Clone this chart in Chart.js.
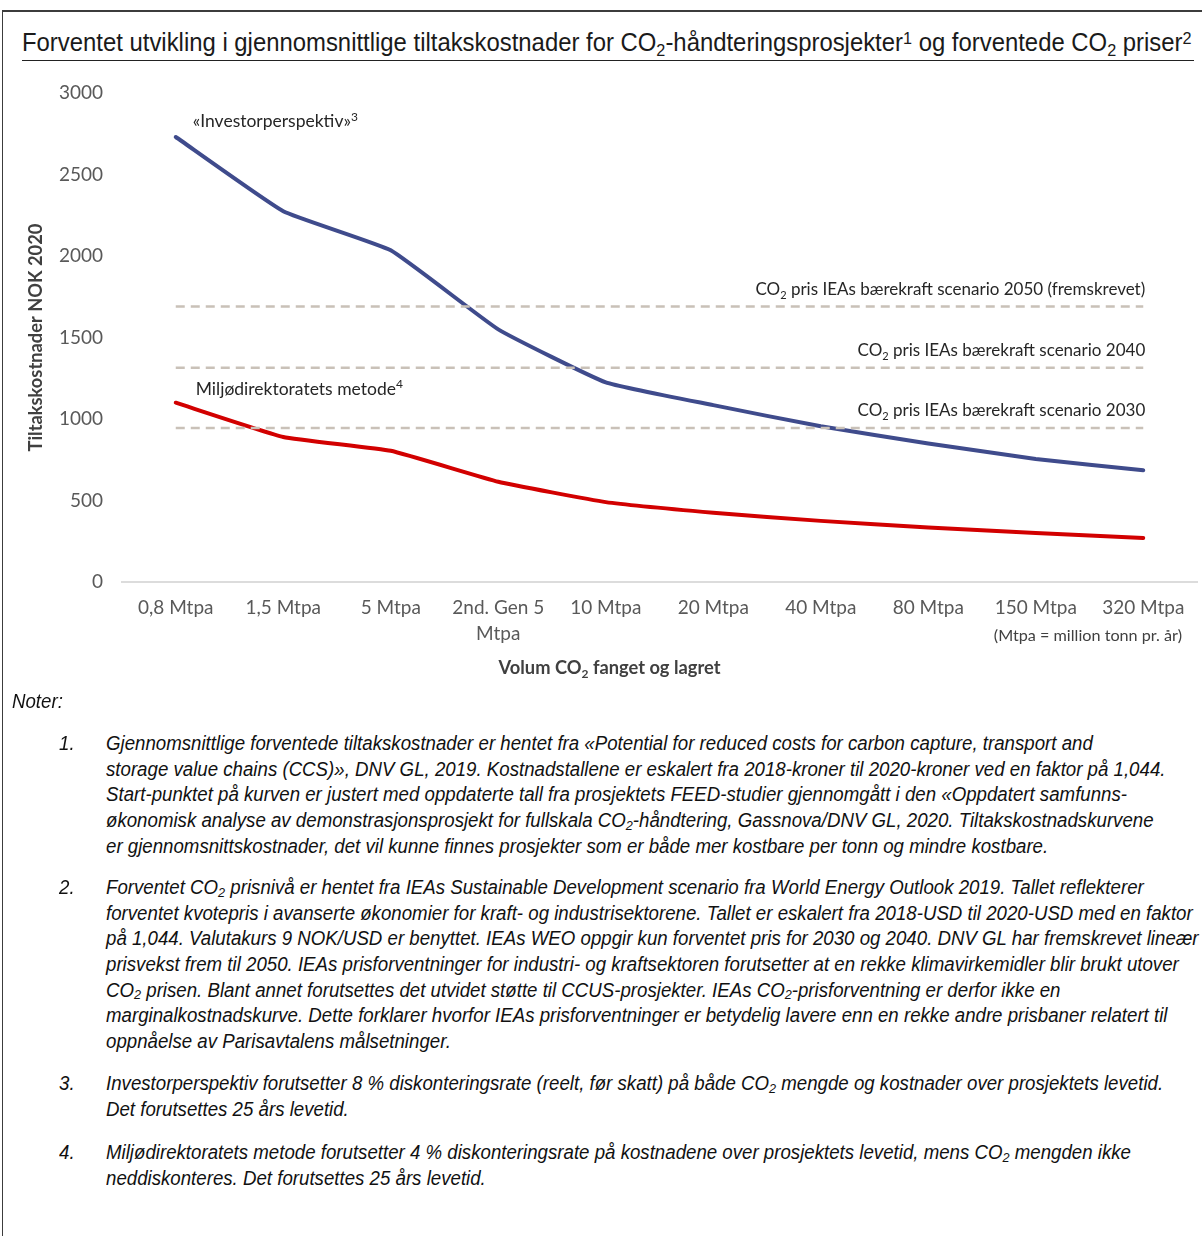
<!DOCTYPE html>
<html lang="no">
<head>
<meta charset="utf-8">
<title>Forventet utvikling i gjennomsnittlige tiltakskostnader</title>
<script src="https://cdn.jsdelivr.net/npm/chart.js@4.4.1/dist/chart.umd.min.js"></script>
<style>
  html, body { margin: 0; padding: 0; background: #fff; }
  body { width: 1202px; height: 1236px; position: relative; overflow: hidden; }
  #frame {
    position: absolute; left: 2px; top: 10px; right: -4px; bottom: -4px;
    border-top: 2px solid #3c3c3c; border-left: 1.5px solid #3c3c3c;
  }
  #title {
    position: absolute; left: 22px; top: 27px; white-space: nowrap;
    font-family: "Liberation Sans", Arial, sans-serif; font-size: 25px; line-height: 30px;
    color: #1a1a1a; transform-origin: 0 50%;
  }
  #title sub, #title sup, .ln sub { font-size: 0.68em; line-height: 0; vertical-align: baseline; position: relative; }
  #title sub { top: 0.28em; }
  #title sup { top: -0.42em; }
  .ln sub { top: 0.22em; }
  #rule { position: absolute; left: 22px; top: 60px; width: 1172px; height: 0; border-top: 1.5px solid #222; }
  #chart { position: absolute; left: 0; top: 0; }
  .notes {
    font-family: "Liberation Sans", Arial, sans-serif; font-style: italic; font-size: 19.5px; color: #111;
  }
  .note { position: absolute; left: 106px; }
  .num { position: absolute; left: -47px; top: 0; line-height: 25.65px; }
  .ln { display: block; width: max-content; white-space: nowrap; line-height: 25.65px; height: 25.65px; transform-origin: 0 50%; }
  #noter { position: absolute; left: 12px; top: 689px; }
</style>
</head>
<body>
<div id="frame"></div>
<div id="title">Forventet utvikling i gjennomsnittlige tiltakskostnader for CO<sub>2</sub>-håndteringsprosjekter<sup>1</sup> og forventede CO<sub>2</sub> priser<sup>2</sup></div>
<div id="rule"></div>
<canvas id="chart" width="1202" height="690"></canvas>

<div class="notes">
  <span id="noter" class="ln">Noter:</span>
  <div class="note" style="top:731px">
    <span class="num">1.</span>
    <span class="ln" id="refLine">Gjennomsnittlige forventede tiltakskostnader er hentet fra «Potential for reduced costs for carbon capture, transport and</span>
    <span class="ln">storage value chains (CCS)», DNV GL, 2019. Kostnadstallene er eskalert fra 2018-kroner til 2020-kroner ved en faktor på 1,044.</span>
    <span class="ln">Start-punktet på kurven er justert med oppdaterte tall fra prosjektets FEED-studier gjennomgått i den «Oppdatert samfunns-</span>
    <span class="ln">økonomisk analyse av demonstrasjonsprosjekt for fullskala CO<sub>2</sub>-håndtering, Gassnova/DNV GL, 2020. Tiltakskostnadskurvene</span>
    <span class="ln">er gjennomsnittskostnader, det vil kunne finnes prosjekter som er både mer kostbare per tonn og mindre kostbare.</span>
  </div>
  <div class="note" style="top:875px">
    <span class="num">2.</span>
    <span class="ln">Forventet CO<sub>2</sub> prisnivå er hentet fra IEAs Sustainable Development scenario fra World Energy Outlook 2019. Tallet reflekterer</span>
    <span class="ln">forventet kvotepris i avanserte økonomier for kraft- og industrisektorene. Tallet er eskalert fra 2018-USD til 2020-USD med en faktor</span>
    <span class="ln">på 1,044. Valutakurs 9 NOK/USD er benyttet. IEAs WEO oppgir kun forventet pris for 2030 og 2040. DNV GL har fremskrevet lineær</span>
    <span class="ln">prisvekst frem til 2050. IEAs prisforventninger for industri- og kraftsektoren forutsetter at en rekke klimavirkemidler blir brukt utover</span>
    <span class="ln">CO<sub>2</sub> prisen. Blant annet forutsettes det utvidet støtte til CCUS-prosjekter. IEAs CO<sub>2</sub>-prisforventning er derfor ikke en</span>
    <span class="ln">marginalkostnadskurve. Dette forklarer hvorfor IEAs prisforventninger er betydelig lavere enn en rekke andre prisbaner relatert til</span>
    <span class="ln">oppnåelse av Parisavtalens målsetninger.</span>
  </div>
  <div class="note" style="top:1071px">
    <span class="num">3.</span>
    <span class="ln">Investorperspektiv forutsetter 8 % diskonteringsrate (reelt, før skatt) på både CO<sub>2</sub> mengde og kostnader over prosjektets levetid.</span>
    <span class="ln">Det forutsettes 25 års levetid.</span>
  </div>
  <div class="note" style="top:1140px">
    <span class="num">4.</span>
    <span class="ln">Miljødirektoratets metode forutsetter 4 % diskonteringsrate på kostnadene over prosjektets levetid, mens CO<sub>2</sub> mengden ikke</span>
    <span class="ln">neddiskonteres. Det forutsettes 25 års levetid.</span>
  </div>
</div>

<script>
// Captured volume per year (x axis categories)
const categories = ['0,8 Mtpa', '1,5 Mtpa', '5 Mtpa', ['2nd. Gen 5', 'Mtpa'], '10 Mtpa',
                    '20 Mtpa', '40 Mtpa', '80 Mtpa', '150 Mtpa', '320 Mtpa'];

// Average abatement cost, NOK 2020 per tonne
const investorCost = [2730, 2275, 2035, 1550, 1225, 1085, 955, 850, 755, 685];
const miljodirCost = [1100, 890, 805, 615, 490, 425, 375, 335, 300, 270];

// IEA sustainable development scenario CO2 prices, NOK 2020 per tonne
const co2PriceYears = ['2050 (fremskrevet)', '2040', '2030'];
const co2Prices = [1690, 1315, 945];

// Value axis
const yMin = 0;
const yMax = 3000;
const yStep = 500;

const FONT = 'Lato, "Open Sans", sans-serif';

// Squeeze the title and note lines horizontally to a narrow face
(function fitText() {
  const title = document.getElementById('title');
  title.style.transform = 'scaleX(' + (1170 / title.offsetWidth) + ')';
  const ref = document.getElementById('refLine');
  const sx = 987 / ref.offsetWidth;
  document.querySelectorAll('.ln, .num').forEach(el => {
    el.style.transform = 'scaleX(' + sx + ')';
    el.style.transformOrigin = '0 50%';
  });
})();

// Draw a run of text pieces where some pieces are sub- or superscript
function drawRich(ctx, parts, x, y, align, size, weight, color) {
  ctx.save();
  ctx.fillStyle = color;
  ctx.textBaseline = 'alphabetic';
  ctx.textAlign = 'left';
  const base = weight + ' ' + size + 'px ' + FONT;
  const small = weight + ' ' + Math.round(size * 0.66) + 'px ' + FONT;
  let total = 0;
  const widths = parts.map(([t, k]) => {
    ctx.font = k ? small : base;
    const w = ctx.measureText(t).width;
    total += w;
    return w;
  });
  let cx = align === 'right' ? x - total : align === 'center' ? x - total / 2 : x;
  parts.forEach(([t, k], i) => {
    ctx.font = k ? small : base;
    const dy = k === 'sub' ? size * 0.24 : k === 'sup' ? -size * 0.36 : 0;
    ctx.fillText(t, cx, y + dy);
    cx += widths[i];
  });
  ctx.restore();
}

// Series names, reference line names and the x axis title
const chartLabels = {
  id: 'chartLabels',
  afterDraw(chart) {
    const { ctx, chartArea, scales: { x, y } } = chart;
    const last = categories.length - 1;
    drawRich(ctx, [['«Investorperspektiv»'], ['3', 'sup']],
      x.getPixelForValue(0) + 17, y.getPixelForValue(investorCost[0]) - 10, 'left', 17.5, 'normal', '#262626');
    drawRich(ctx, [['Miljødirektoratets metode'], ['4', 'sup']],
      x.getPixelForValue(0) + 20, y.getPixelForValue(miljodirCost[0]) - 8, 'left', 17.5, 'normal', '#262626');
    co2Prices.forEach((p, i) => {
      drawRich(ctx, [['CO'], ['2', 'sub'], [' pris IEAs bærekraft scenario ' + co2PriceYears[i]]],
        x.getPixelForValue(last) + 2, y.getPixelForValue(p) - 12, 'right', 17, 'normal', '#262626');
    });
    drawRich(ctx, [['(Mtpa = million tonn pr. år)']],
      chartArea.right - 15, x.top + 59, 'right', 16.2, 'normal', '#404040');
    drawRich(ctx, [['Volum CO'], ['2', 'sub'], [' fanget og lagret']],
      (chartArea.left + chartArea.right) / 2 - 50, x.top + 92, 'center', 18.3, 'bold', '#404040');
  }
};

const curveStyle = {
  borderWidth: 4, tension: 0.12, pointRadius: 0, pointHoverRadius: 0,
  borderCapStyle: 'round', borderJoinStyle: 'round', fill: false, order: 1
};

new Chart(document.getElementById('chart'), {
  type: 'line',
  data: {
    labels: categories,
    datasets: [
      Object.assign({ label: '«Investorperspektiv»', data: investorCost, borderColor: '#3f4b8c' }, curveStyle),
      Object.assign({ label: 'Miljødirektoratets metode', data: miljodirCost, borderColor: '#d20000' }, curveStyle),
      ...co2Prices.map((p, i) => ({
        label: 'CO2 pris IEAs bærekraft scenario ' + co2PriceYears[i],
        data: categories.map(() => p),
        borderColor: '#c9c1b8', borderWidth: 2.5, borderDash: [9, 6],
        pointRadius: 0, pointHoverRadius: 0, tension: 0, fill: false, order: 0
      }))
    ]
  },
  options: {
    responsive: false,
    animation: false,
    devicePixelRatio: 1,
    layout: { padding: { top: 93, right: 5, left: 0, bottom: 0 } },
    plugins: { legend: { display: false }, tooltip: { enabled: false }, title: { display: false } },
    scales: {
      x: {
        offset: true,
        grid: { display: false, drawTicks: false },
        border: { display: true, color: '#dcdcdc', width: 2 },
        ticks: {
          color: '#595959', font: { family: FONT, size: 19, lineHeight: 1.35 },
          padding: 13, maxRotation: 0, autoSkip: false
        },
        afterFit(scale) { scale.height = 108; }
      },
      y: {
        min: yMin, max: yMax,
        grid: { display: false, drawTicks: false },
        border: { display: false },
        ticks: {
          stepSize: yStep, color: '#595959', font: { family: FONT, size: 19 }, padding: 19,
          callback: (v) => String(v)
        },
        title: {
          display: true, text: 'Tiltakskostnader NOK 2020', color: '#404040',
          font: { family: FONT, size: 18.3, weight: 'bold' }, padding: { top: 25, bottom: 0 }
        },
        afterFit(scale) { scale.width = 122; }
      }
    }
  },
  plugins: [chartLabels]
});
</script>
</body>
</html>
